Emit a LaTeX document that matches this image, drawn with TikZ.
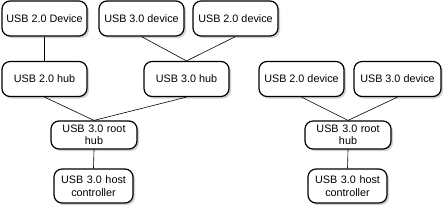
\documentclass[tikz,border=0pt]{standalone}
\usepackage{fontspec}
\setmainfont{Liberation Sans}
\usetikzlibrary{shadows}

\begin{document}
\begin{tikzpicture}[
            x=1pt, y=-1pt,
            box/.style={draw, rounded corners=8pt, line width=1.2pt, fill=white,
                minimum width=85pt, minimum height=35pt, inner sep=1pt,
                align=center, font=\fontsize{10.8}{12.3}\selectfont,
                drop shadow={shadow xshift=2pt, shadow yshift=-2pt, fill=black!35}},
            twoline/.style={box, text width=76pt},
            every edge/.style={draw, line width=0.6pt}
        ]
        \useasboundingbox (0,0) rectangle (443,210);
        % devices on top
        \node[box] (dev20a) at (44.5,18.5)  {USB 2.0 Device};
        \node[box] (dev30a) at (141.5,18.5) {USB 3.0 device};
        \node[box] (dev20b) at (235.5,18.5) {USB 2.0 device};
        % hubs
        \node[box] (hub20) at (44.5,79)  {USB 2.0 hub};
        \node[box] (hub30) at (186.5,79) {USB 3.0 hub};
        \node[box] (dev20c) at (301.5,79) {USB 2.0 device};
        \node[box, minimum width=87pt] (dev30b) at (397.5,79) {USB 3.0 device};
        % root hubs and controllers
        \node[twoline, minimum height=28pt, minimum width=86pt] (rootA) at (94,135) {USB 3.0 root\\hub};
        \node[twoline, minimum height=34pt, minimum width=79pt] (hostA) at (93.5,186) {USB 3.0 host\\controller};
        \node[twoline, minimum height=28pt, minimum width=86pt] (rootB) at (348,135) {USB 3.0 root\\hub};
        \node[twoline, minimum height=34pt, minimum width=79pt] (hostB) at (347.5,186) {USB 3.0 host\\controller};
        \draw (dev20a.south) edge (hub20.north);
        \draw (dev30a.south) edge (hub30.north);
        \draw (dev20b.south) edge (hub30.north);
        \draw (hub20.south) edge (rootA.north);
        \draw (hub30.south) edge (rootA.north);
        \draw (rootA.south) edge (hostA.north);
        \draw (dev20c.south) edge (rootB.north);
        \draw (dev30b.south) edge (rootB.north);
        \draw (rootB.south) edge (hostB.north);
    \end{tikzpicture}
\end{document}
